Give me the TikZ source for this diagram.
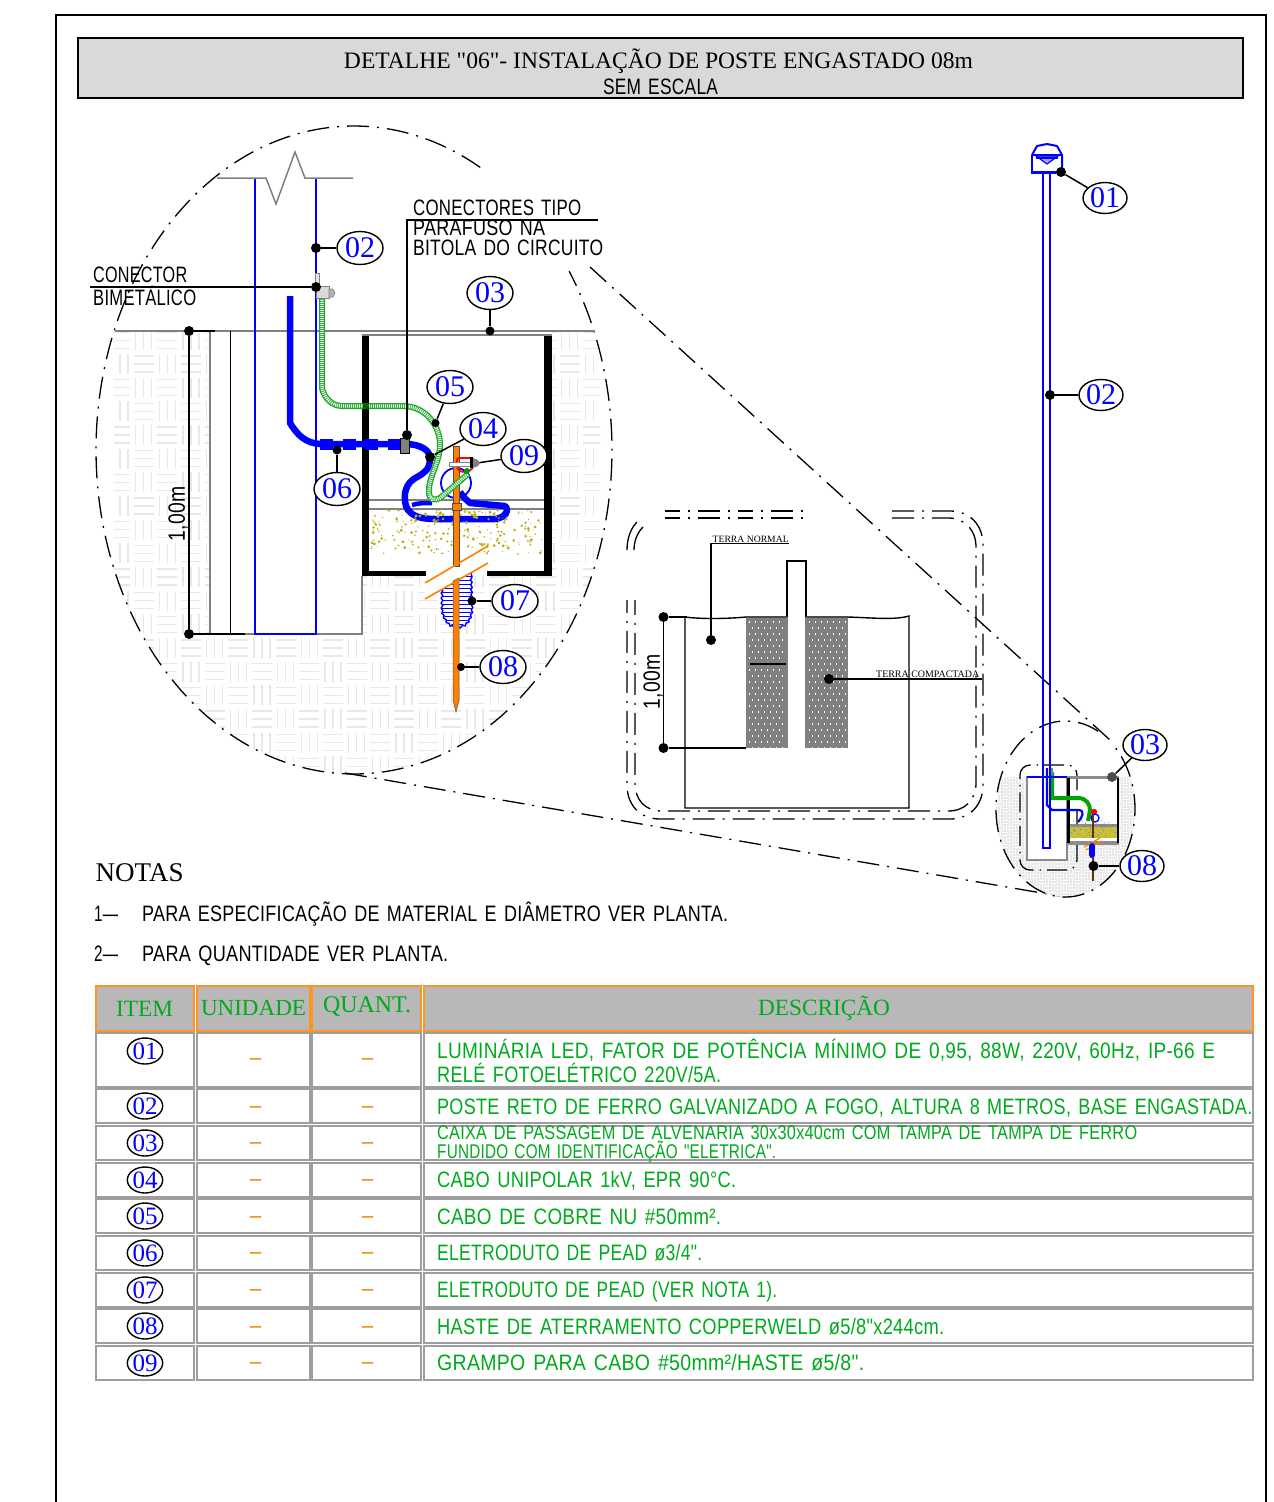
\documentclass[tikz,border=0pt]{standalone}
\usepackage{graphicx}
\usepackage{fontspec}
\setmainfont{Liberation Serif}
\newfontfamily\serf{Liberation Serif}
\newfontfamily\cadf[LetterSpace=1.5,WordSpace=1.4]{Liberation Sans}
\usetikzlibrary{shapes.geometric,decorations.pathmorphing}
\definecolor{ablue}{RGB}{0,0,255}
\definecolor{agreen}{RGB}{0,170,30}
\definecolor{aorange}{RGB}{255,128,0}
\definecolor{agrey}{RGB}{128,128,128}
\definecolor{gravel}{RGB}{185,175,10}
\definecolor{soil}{RGB}{232,232,232}
\definecolor{baregreen}{RGB}{30,170,40}
\newcommand\cadt[3][18]{\resizebox{#2pt}{\totalheight}{\cadf\fontsize{#1}{#1}\selectfont\vphantom{Ág}#3}}
\newcommand\sert[2]{\resizebox{#1pt}{!}{#2}}
\tikzset{
  cline/.style={line width=1.3pt,dash pattern=on 22pt off 8pt on 2pt off 8pt},
  lbl/.style={ellipse,draw=black,line width=1.4pt,fill=white,minimum width=46pt,minimum height=33pt,inner sep=0pt,text=ablue,font=\fontsize{30}{30}\selectfont},
  tlbl/.style={ellipse,draw=black,line width=1.4pt,fill=white,minimum width=35pt,minimum height=26pt,inner sep=0pt,text=ablue,font=\fontsize{25}{25}\selectfont},
  pt/.style={circle,fill=black,inner sep=0pt,minimum size=10pt},
  lead/.style={line width=1.5pt,black},
  polel/.style={ablue,line width=1.8pt},
  txt/.style={inner sep=0pt,anchor=west,text=black},
  gtxt/.style={inner sep=0pt,anchor=west,text=agreen},
  hcell/.style={draw=aorange!85!white,fill=black!28,line width=1.2pt},
  rcell/.style={draw=black!38,fill=white,line width=1.1pt},
  htxt/.style={inner sep=0pt,text=agreen,font=\fontsize{25}{25}\selectfont},
  dashm/.style={inner sep=0pt,text=aorange,font=\fontsize{22}{22}\selectfont\bfseries},
  wall/.style={fill=black},
  cond/.style={ablue,line width=6.5pt,line join=round},
  bare/.style={line width=6pt,baregreen},
  barei/.style={line width=3.4pt,white,dash pattern=on 1pt off 1pt},
  rod/.style={fill=aorange,draw=black!70,line width=.5pt},
  brk/.style={aorange,line width=1.6pt},
}
\begin{document}
\begin{tikzpicture}[x=1pt,y=-1pt]
\useasboundingbox (0,0) rectangle (1274,1502);
\fill[white] (0,0) rectangle (1274,1502);
% frame and title
\draw[black,line width=1.5pt] (56,1502) -- (56,15) -- (1266,15) -- (1266,1502);
\draw[black,line width=1.5pt,fill=black!15] (78,38) rectangle (1243,98);
\node[inner sep=0pt] (title) at (658.5,61) {\sert{629}{\serf\fontsize{24}{24}\selectfont DETALHE "06"- INSTALAÇÃO DE POSTE ENGASTADO 08m}};
\node[inner sep=0pt] (scale) at (660.5,87) {\cadt{115}{SEM ESCALA}};

% ---------- big detail: soil
\begin{scope}
\clip (114,331) rectangle (600,780);
\clip (354,450) ellipse [x radius=258pt,y radius=324pt];
\foreach \i in {-6,...,15}{\foreach \j in {-13,...,6}{
  \pgfmathsetmacro\xa{250+23.67*\i}
  \pgfmathsetmacro\ya{636+23.67*\j}
  \pgfmathtruncatemacro\kk{\i+\j+40}
  \ifodd\kk
    \foreach \q in {4,12,20}{\draw[soil,line width=1.1pt] (\xa+2,\ya+\q) -- (\xa+22,\ya+\q);}
  \else
    \foreach \q in {4,12,20}{\draw[soil,line width=1.1pt] (\xa+\q,\ya+2) -- (\xa+\q,\ya+22);}
  \fi
}}
\end{scope}
\fill[white] (210,331) rectangle (362,634);
\fill[white] (362,331) rectangle (552,576);
\fill[white] (425,583) -- (488,546) -- (488,563) -- (425,599) -- cycle;
\draw[cline] plot[domain=60.7:393.5,samples=240] ({354+258*cos(\x)},{450-324*sin(\x)});

% excavation & ground
\draw[agrey,line width=1.5pt] (115,331) -- (595,331);
\draw[agrey,line width=1.5pt] (210,331) -- (210,634);
\draw[agrey,line width=1.5pt] (245,634) -- (362,634) -- (362,576);
\draw[black,line width=1.4pt] (230.5,331) -- (230.5,634);
\node[pt] (dimA) at (189,331) {};
\node[pt] (dimB) at (189,634) {};
\draw[lead] (dimA) -- (dimB);
\draw[lead] (dimA) -- (215,331);
\draw[lead] (dimB) -- (245,634);
\node[inner sep=0pt,rotate=90] (dimtxt) at (177,514) {\cadt[19]{55}{1,00m}};

% pole
\draw[polel] (255,178) -- (255,634) -- (316,634) -- (316,178);
\draw[agrey,line width=1.5pt] (217,178) -- (266,178) -- (276,204) -- (295,152) -- (305,178) -- (353,178);

% box
\fill[wall] (362,336) rectangle (369,576);
\fill[wall] (544,336) rectangle (552,576);
\fill[wall] (362,571) rectangle (426,576);
\fill[wall] (487,571) rectangle (552,576);
\draw[agrey,line width=1.5pt] (362,335) -- (552,335);
\draw[agrey,line width=1.3pt] (369,500) -- (544,500);
\draw[agrey,line width=1.3pt] (369,509) -- (544,509);
% gravel under conduit
\pgfmathsetseed{11}
\foreach \n in {1,...,230}{
  \pgfmathsetmacro\xa{371+rnd*172}
  \pgfmathsetmacro\ya{510+rnd*44}
  \pgfmathsetmacro\ra{0.5+rnd*1.1}
  \fill[gravel] (\xa,\ya) circle (\ra pt);
}
% conduit 06/04
\draw[cond] (290,296) -- (290,423) .. controls (298,436) and (306,443) .. (320,444) -- (405,444) .. controls (420,444) and (430,450) .. (430,458) .. controls (430,470) and (424,473) .. (417,477) .. controls (405,483) and (403,495) .. (406,506) .. controls (410,516) and (420,519) .. (435,519) -- (495,519) .. controls (505,518) and (510,510) .. (505,506) -- (470,503) .. controls (464,498) and (462,495) .. (460,492);
\draw[cond,line width=4.5pt] (412,505) .. controls (418,503) and (425,503) .. (432,503);
\draw[cond,line width=11pt,dash pattern=on 13pt off 9.5pt] (320,444.5) -- (402,444.5);
\draw[ablue,line width=1.8pt] (456,483) circle (15pt);
% gravel over conduit
\pgfmathsetseed{23}
\foreach \n in {1,...,50}{
  \pgfmathsetmacro\xa{415+rnd*92}
  \pgfmathsetmacro\ya{512+rnd*10}
  \pgfmathsetmacro\ra{0.5+rnd*1.2}
  \fill[gravel] (\xa,\ya) circle (\ra pt);
}
% rod
\path[rod] (453,446) rectangle (459,566);
\path[rod] (452,503) rectangle (461,510);
% tube 07
\draw[ablue,line width=1.4pt,fill=white,decorate,decoration={snake,amplitude=.8pt,segment length=5pt}] (442,589) -- (442,610) .. controls (444,620) and (450,626) .. (457,626) .. controls (465,626) and (471,620) .. (472,608) -- (471,573);
\begin{scope}
\clip (442,589) -- (471,573) -- (472,608) .. controls (471,620) and (465,626) .. (457,626) .. controls (450,626) and (444,620) .. (442,610) -- cycle;
\foreach \q in {572,576,...,626}{\draw[ablue,line width=.8pt] (440,\q) -- (474,\q);}
\end{scope}
\path[rod] (453,581) -- (459,578) -- (459,700) -- (456,712) -- (453,700) -- cycle;
\draw[brk] (425,583) -- (488,546);
\draw[brk] (425,599) -- (488,563);
% bare copper 05
\def\barepath{(322,298) -- (322,388) .. controls (324,398) and (332,406) .. (342,406) -- (403,406) .. controls (425,406) and (440,425) .. (440,445) .. controls (440,462) and (428,478) .. (429,492) .. controls (429,500) and (434,501) .. (440,498) -- (468,474)}
\draw[bare] \barepath;
\draw[barei] \barepath;
\draw[green!40!black,line width=6pt] (363,406) -- (369,406);
% connectors
\fill[black!10,draw=agrey,line width=.6pt] (315,273) rectangle (319,287);
\fill[black!15,draw=agrey,line width=.6pt] (316,286) rectangle (329,298);
\fill[black!30,draw=agrey,line width=.6pt] (329,289) -- (333,289) -- (335,293) -- (333,297) -- (329,297) -- cycle;
\fill[agrey,draw=black,line width=.8pt] (400,438) rectangle (409,453);
% clamp 09
\draw[red,line width=1.8pt,rounded corners=2pt] (457,458) -- (473,458) -- (473,467) .. controls (470,472) and (460,474) .. (457,467) -- cycle;
\fill[white,draw=agrey,line width=.6pt] (449,462) rectangle (470,466);
\fill[black] (470,457) rectangle (473,468);
\fill[agrey] (473,458) -- (478,460) -- (480,463) -- (478,466) -- (473,468) -- cycle;
\fill[green!60!black] (467,471) circle (3pt);

% leaders big detail
\node[pt] (pbi) at (316,287) {};
\coordinate (bileft) at (90,287);
\draw[lead] (bileft) -- (pbi);
\node[txt] (tcon) at (93,275) {\cadt{94}{CONECTOR}};
\node[txt] (tbim) at (93,298) {\cadt{103}{BIMETÁLICO}};
\node[pt] (pcon) at (407,435) {};
\coordinate (cc) at (407,220);
\coordinate (ce) at (598,220);
\draw[lead] (pcon) -- (cc) -- (ce);
\node[txt] (tc1) at (413,208) {\cadt{168}{CONECTORES TIPO}};
\node[txt] (tc2) at (413,228) {\cadt{132}{PARAFUSO NA}};
\node[txt] (tc3) at (413,248) {\cadt{190}{BITOLA DO CIRCUITO}};
\node[lbl] (a02) at (360,248) {02};
\node[pt] (b02) at (316,248) {};
\draw[lead] (b02) -- (a02);
\node[lbl] (a03) at (490,293) {03};
\node[pt,minimum size=9pt] (b03) at (490,331) {};
\draw[lead] (b03) -- (a03);
\node[lbl] (a05) at (450,387) {05};
\node[pt,minimum size=8pt] (b05) at (435.5,423) {};
\draw[lead] (b05) -- (a05);
\node[lbl] (a04) at (483,429) {04};
\node[pt] (b04) at (430,457) {};
\draw[lead] (b04) -- (a04);
\node[lbl] (a09) at (524,456) {09};
\node[pt,minimum size=5pt,fill=agrey] (b09) at (477,463) {};
\draw[lead] (b09) -- (a09);
\node[lbl] (a06) at (337,489) {06};
\node[pt,minimum size=9pt] (b06) at (337,450) {};
\draw[lead] (b06) -- (a06);
\node[lbl] (a07) at (515,601) {07};
\node[pt,minimum size=9pt] (b07) at (472,601) {};
\draw[lead] (b07) -- (a07);
\node[lbl] (a08) at (503,667) {08};
\node[pt,minimum size=8pt] (b08) at (461,667) {};
\draw[lead] (b08) -- (a08);

% ---------- middle inset
\draw[cline] (892,511) -- (950,511) .. controls (970,511) and (983,525) .. (983,545) -- (983,785) .. controls (983,805) and (970,819) .. (950,819) -- (660,819) .. controls (640,819) and (627,805) .. (627,785) -- (627,600);
\draw[cline] (892,518) -- (948,518) .. controls (965,518) and (976,530) .. (976,547) -- (976,783) .. controls (976,800) and (965,811) .. (948,811) -- (662,811) .. controls (645,811) and (635,800) .. (635,783) -- (635,600);
\draw[line width=1.3pt,dash pattern=on 15pt off 8pt on 2pt off 8pt on 22pt off 8pt on 2pt off 8pt] (665,511) -- (806,511);
\draw[line width=1.3pt,dash pattern=on 15pt off 8pt on 2pt off 8pt on 22pt off 8pt on 2pt off 8pt] (665,518) -- (806,518);
\draw[line width=1.3pt] (627,550) .. controls (627,538) and (631,528) .. (637,522);
\draw[line width=1.3pt] (634,550) .. controls (634,540) and (638,532) .. (643,527);
% compact soil
\fill[black!50] (746,617) rectangle (787,748);
\fill[black!50] (806,617) rectangle (848,748);
\foreach \i in {0,...,17}{\foreach \j in {0,...,21}{
  \pgfmathsetmacro\xa{749+6*\i+(mod(\j,2))*3}
  \pgfmathsetmacro\ya{621+6*\j}
  \pgfmathtruncatemacro\xi{\xa}
  \ifnum\xi<785 \fill[white] (\xa,\ya) rectangle ++(1,2);\fi
  \ifnum\xi>808 \ifnum\xi<846 \fill[white] (\xa,\ya) rectangle ++(1,2);\fi\fi
}}
\fill[white] (787,617) rectangle (806,748);
\draw[black,line width=1.4pt] (787,617) -- (787,561) -- (806,561) -- (806,617);
\draw[agrey,line width=1.2pt] (787,617) -- (787,748);
\draw[agrey,line width=1.2pt] (806,617) -- (806,748);
\draw[black,line width=1.4pt] (685,617) -- (685,808) -- (909,808) -- (909,616) .. controls (895,620) and (875,618) .. (848,617);
\draw[black,line width=1.4pt] (685,617) .. controls (700,619) and (725,619) .. (746,617);
\draw[black!70,line width=1.4pt] (746,617) -- (787,617);
\draw[black!70,line width=1.4pt] (806,617) -- (848,617);
\draw[black,line width=1.4pt] (750,664) -- (786,664);
\node[pt] (dimC) at (663.5,617) {};
\node[pt] (dimD) at (663.5,748) {};
\coordinate (dimCe) at (687,617);
\coordinate (dimDe) at (746,748);
\draw[lead] (dimC) -- (dimD);
\draw[lead] (dimC) -- (dimCe);
\draw[lead] (dimD) -- (dimDe);
\node[inner sep=0pt,rotate=90] (dimtxt2) at (652,682) {\cadt[19]{55}{1,00m}};
\node[pt] (tnp) at (711,640) {};
\coordinate (tnc) at (711,543.5);
\coordinate (tne) at (789,543.5);
\draw[lead] (tnp) -- (tnc) -- (tne);
\node[txt] (tnt) at (712.5,539) {\sert{76}{\fontsize{9}{9}\selectfont TERRA NORMAL}};
\node[pt] (tcp) at (829,679) {};
\coordinate (tce) at (982,679);
\draw[lead] (tcp) -- (tce);
\node[txt] (tct) at (876,674) {\sert{103}{\fontsize{9}{9}\selectfont TERRA COMPACTADA}};

% long detail lines
\coordinate (la1) at (590,267);
\coordinate (la2) at (1110,740);
\coordinate (lb1) at (345,773);
\coordinate (lb2) at (1065,897);
\draw[cline] (la1) -- (la2);
\draw[cline] (lb1) -- (lb2);

% ---------- right pole elevation
\begin{scope}
\clip (996,777) rectangle (1137,900);
\clip (1065.5,809) ellipse [x radius=69.5pt,y radius=88pt];
\fill[black!9] (990,777) rectangle (1140,900);
\foreach \i in {0,...,24}{\foreach \j in {0,...,21}{
  \pgfmathsetmacro\xa{990+6*\i}
  \pgfmathsetmacro\ya{777+6*\j}
  \pgfmathtruncatemacro\kk{\i+\j}
  \ifodd\kk
    \draw[white,line width=.5pt] (\xa,\ya+1.5) -- (\xa+6,\ya+1.5);
    \draw[white,line width=.5pt] (\xa,\ya+4.5) -- (\xa+6,\ya+4.5);
  \else
    \draw[white,line width=.5pt] (\xa+1.5,\ya) -- (\xa+1.5,\ya+6);
    \draw[white,line width=.5pt] (\xa+4.5,\ya) -- (\xa+4.5,\ya+6);
  \fi
}}
\end{scope}
\fill[white] (1067,778) rectangle (1118,843);
\fill[white,draw=black!45,line width=1.5pt] (1027,777) rectangle (1067,860);
\draw[cline] plot[domain=62:405,samples=160] ({1065.5+69.5*cos(\x)},{809-88*sin(\x)});
\draw[black,line width=1.3pt,dash pattern=on 20pt off 6pt on 1.5pt off 6pt,rounded corners=10pt] (1077,790) -- (1077,765) -- (1020,765) -- (1020,870) -- (1077,870) -- (1077,810);
\fill[black!45] (1067,776) rectangle (1119,779);
\fill[black!45] (1067,841) rectangle (1119,845);
\fill[black] (1067,778) rectangle (1070,843);
\fill[black] (1116.5,778) rectangle (1119,843);
\fill[black!45] (1070,824) rectangle (1116.5,828);
\pgfmathsetseed{5}
\fill[gravel!80!white] (1070,827) rectangle (1116.5,838);
\foreach \n in {1,...,45}{
  \pgfmathsetmacro\xa{1071+rnd*45}
  \pgfmathsetmacro\ya{820+rnd*18}
  \fill[ablue!40!black!60] (\xa,\ya) circle (.5pt);
}
\draw[green!65!black,line width=4pt] (1052,772) -- (1052,798) -- (1078,798) .. controls (1086,798) and (1090,804) .. (1090,810) -- (1088,821);
\fill[red] (1094,812) circle (3.2pt);
\draw[ablue,line width=2.2pt] (1047,768) -- (1047,805) -- (1052,810) -- (1078,810) .. controls (1086,810) and (1082,818) .. (1078,822);
\draw[ablue,line width=1.3pt] (1095,818) circle (4pt);
\draw[aorange,line width=1.2pt] (1084,847) -- (1100,838);
\draw[aorange,line width=1.2pt] (1086,850) -- (1102,841);
\draw[ablue,line width=6pt,line cap=round] (1092,846) -- (1092,855);
\draw[black!60!orange,line width=1.8pt] (1093,815) -- (1093,838);
\draw[black!60!orange,line width=1.8pt] (1093,857) -- (1093,881);
\draw[polel,line width=2.2pt] (1043,172) -- (1043,848) -- (1050,848) -- (1050,172);
\draw[ablue,line width=1.3pt] (1027,777) -- (1067,777);
\fill[black!50] (1051,768) rectangle (1053,775);
% lamp
\draw[ablue,line width=2pt,line join=round] (1032,155) -- (1037,146) -- (1047,144) -- (1057,146) -- (1062,155) -- (1062,172);
\draw[ablue,line width=2pt] (1032,155) -- (1032,172);
\draw[ablue,line width=3pt] (1031,172) -- (1063,172);
\draw[ablue,line width=1.5pt] (1032,155) -- (1062,155);
\draw[ablue,line width=1.2pt,fill=ablue!35] (1036,156) -- (1058,156) -- (1047,164) -- cycle;
\draw[ablue,line width=2pt] (1036,158) -- (1058,158);

\node[lbl,minimum width=44pt,minimum height=31pt] (r01) at (1105,198) {01};
\node[pt] (s01) at (1061,172) {};
\draw[lead] (s01) -- (r01);
\node[lbl,minimum width=44pt,minimum height=31pt] (r02) at (1101,395) {02};
\node[pt] (s02) at (1050,395) {};
\draw[lead] (s02) -- (r02);
\node[lbl,minimum width=44pt,minimum height=31pt] (r03) at (1145,745) {03};
\node[pt,fill=black!70] (s03) at (1112,777) {};
\draw[lead] (s03) -- (r03);
\node[lbl,minimum width=44pt,minimum height=31pt] (r08) at (1142,866) {08};
\node[pt] (s08) at (1093.5,866) {};
\draw[lead] (s08) -- (r08);

% ---------- notes
\node[txt] (nt) at (95.5,872.5) {\fontsize{27}{27}\selectfont NOTAS};
\node[txt] (n1a) at (94,914) {\cadt{24}{1—}};
\node[txt] (n1b) at (142,914) {\cadt{586}{PARA ESPECIFICAÇÃO DE MATERIAL E DIÂMETRO VER PLANTA.}};
\node[txt] (n2a) at (94,954) {\cadt{24}{2—}};
\node[txt] (n2b) at (142,954) {\cadt{306}{PARA QUANTIDADE VER PLANTA.}};

% ---------- table
\draw[hcell] (96,986) rectangle (194,1031);
\draw[hcell] (197,986) rectangle (310,1031);
\draw[hcell] (312,986) rectangle (421,1031);
\draw[hcell] (424,986) rectangle (1253,1031);
\node[htxt] (h1) at (144.5,1009) {\sert{57}{ITEM}};
\node[htxt] (h2) at (253.5,1008) {\sert{105}{UNIDADE}};
\node[htxt] (h3) at (367,1007) {\sert{88}{QUANT.}};
\node[htxt] (h4) at (824,1008) {\sert{132}{DESCRIÇÃO}};
\foreach \ya/\yb/\num/\yl/\yd in {1033/1087/01/1051/1059, 1089/1123/02/1106/1107, 1126/1160/03/1143/1143, 1163/1197/04/1180/1180, 1199/1233/05/1216/1217, 1236/1270/06/1253/1253, 1273/1307/07/1290/1290, 1309/1343/08/1326/1327, 1346/1380/09/1363/1363}{
  \draw[rcell] (96,\ya) rectangle (194,\yb);
  \draw[rcell] (197,\ya) rectangle (310,\yb);
  \draw[rcell] (312,\ya) rectangle (421,\yb);
  \draw[rcell] (424,\ya) rectangle (1253,\yb);
  \node[tlbl] (t\num) at (145,\yl) {\num};
  \node[dashm] (du\num) at (255.5,\yd+3) {–};
  \node[dashm] (dq\num) at (367.5,\yd+3) {–};
}
\node[gtxt] (d1a) at (437,1051) {\cadt{778}{LUMINÁRIA LED, FATOR DE POTÊNCIA MÍNIMO DE 0,95, 88W, 220V, 60Hz, IP-66 E}};
\node[gtxt] (d1b) at (437,1075) {\cadt{284}{RELÉ FOTOELÉTRICO 220V/5A.}};
\node[gtxt] (d2) at (437,1107) {\cadt{815}{POSTE RETO DE FERRO GALVANIZADO A FOGO, ALTURA 8 METROS, BASE ENGASTADA.}};
\node[gtxt] (d3a) at (437,1133) {\cadt[16]{700}{CAIXA DE PASSAGEM DE ALVENARIA 30x30x40cm COM TAMPA DE TAMPA DE FERRO}};
\node[gtxt] (d3b) at (437,1152) {\cadt[16]{339}{FUNDIDO COM IDENTIFICAÇÃO "ELETRICA".}};
\node[gtxt] (d4) at (437,1180) {\cadt{299}{CABO UNIPOLAR 1kV, EPR 90°C.}};
\node[gtxt] (d5) at (437,1217) {\cadt{284}{CABO DE COBRE NU \#50mm².}};
\node[gtxt] (d6) at (437,1253) {\cadt{265}{ELETRODUTO DE PEAD ø3/4".}};
\node[gtxt] (d7) at (437,1290) {\cadt{340}{ELETRODUTO DE PEAD (VER NOTA 1).}};
\node[gtxt] (d8) at (437,1327) {\cadt{507}{HASTE DE ATERRAMENTO COPPERWELD ø5/8"x244cm.}};
\node[gtxt] (d9) at (437,1363) {\cadt{427}{GRAMPO PARA CABO \#50mm²/HASTE ø5/8".}};
\end{tikzpicture}
\end{document}
